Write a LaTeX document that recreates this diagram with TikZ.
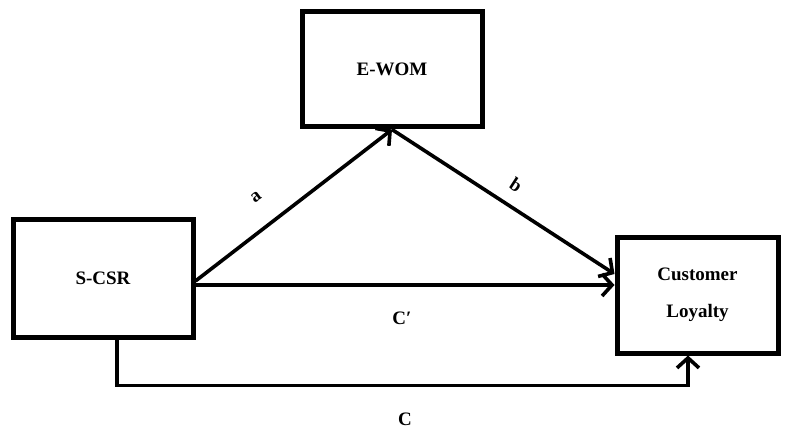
\documentclass[tikz,border=0pt]{standalone}
\usepackage{fontspec}
\setmainfont{Liberation Serif}
\usetikzlibrary{arrows.meta}
\begin{document}
\begin{tikzpicture}[x=1pt,y=-1pt,
  box/.style={draw=black,line width=5pt,fill=white,inner sep=0pt,
    font=\fontsize{19}{37}\selectfont\bfseries,align=center},
  arr/.style={line width=3.6pt,-{Straight Barb[length=10pt,width=22pt,line width=3.6pt]}},
  lbl/.style={font=\fontsize{19}{22}\selectfont\bfseries,inner sep=0pt}]
\useasboundingbox (0,0) rectangle (787,433);
\node[box,minimum width=180pt,minimum height=115pt] (ewom) at (392,69.5) {E-WOM};
\node[box,minimum width=180pt,minimum height=118pt] (scsr) at (103,278) {S-CSR};
\node[box,minimum width=161pt,minimum height=116pt] (loy) at (697.5,295) {Customer\\Loyalty};
\draw[arr] (scsr.east |- 0,281) -- (ewom.south);
\draw[arr] (ewom.south) -- (loy.west |- 0,274);
\draw[arr] (scsr.east |- 0,285) -- (loy.west |- 0,285);
\draw[arr] ([xshift=14pt]scsr.south) -- ++(0,46) -| ([xshift=-9.5pt]loy.south);
\node[lbl,rotate=37] (la) at (256,197) {a};
\node[lbl,rotate=-33] (lb) at (516,185) {b};
\node[lbl] (lcp) at (402,318) {C′};
\node[lbl] (lc) at (405,419) {C};
\end{tikzpicture}
\end{document}
